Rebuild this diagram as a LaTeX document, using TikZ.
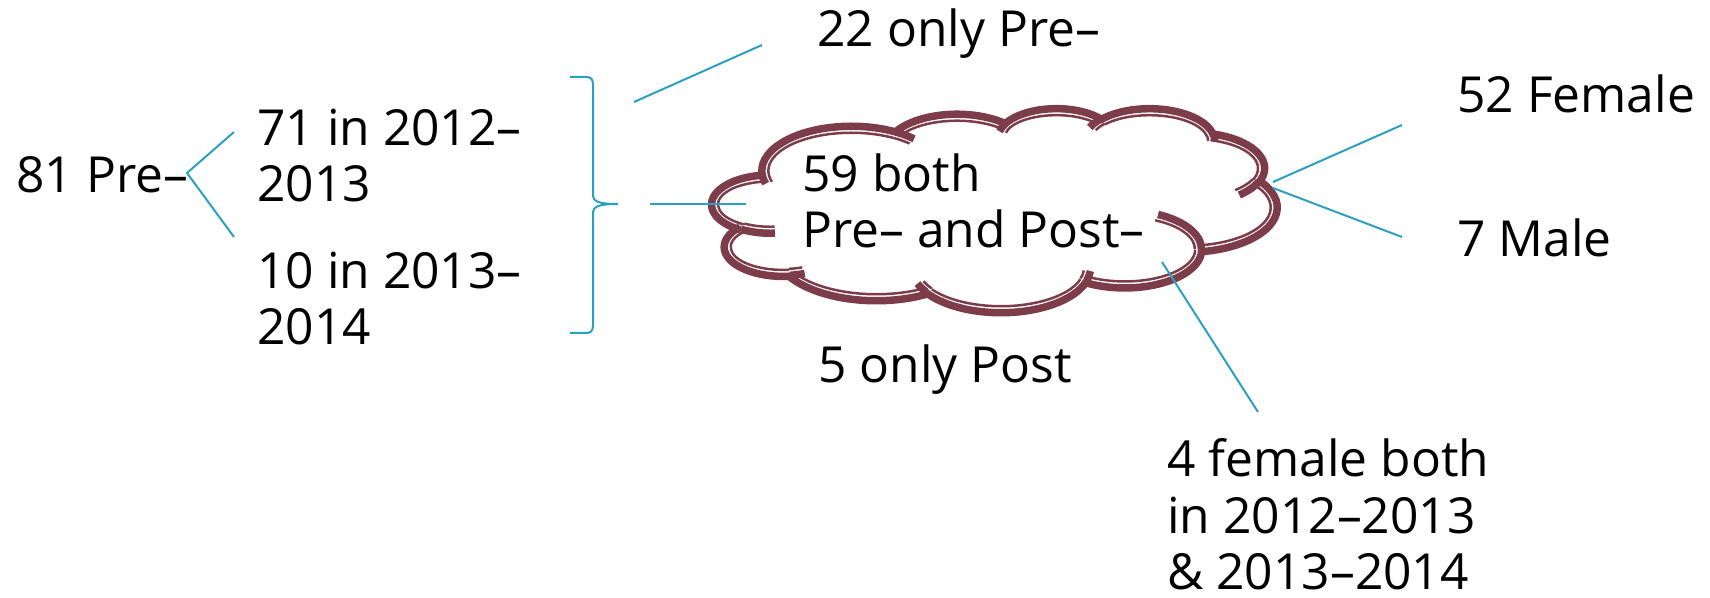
\documentclass[tikz,border=0pt]{standalone}
\usepackage{fontspec}
\setmainfont{Open Sans}
\definecolor{linkblue}{RGB}{44,160,192}
\definecolor{cloudred}{RGB}{124,60,74}

% cloud outline helpers: shape units (0..43200) mapped onto a 561 x 200 box at (714,110)
\newcommand\cldmove[2]{%
  \edef\cpx{\fpeval{714+(#1)*561/43200}}%
  \edef\cpy{\fpeval{110+(#2)*200/43200}}}
\newcommand\cldband[2]{%
  \draw[cloudline, line width=#2*0.5pt]
    ({\cldcx+(\cldrx+(#1))*cos(\cldta)},{\cldcy+(\cldry+(#1))*sin(\cldta)})
    arc[start angle=\cldta, end angle=\cldtb, x radius={\cldrx+(#1)}, y radius={\cldry+(#1)}];}
% elliptic arc from the current point: radii wR,hR, start angle, sweep (degrees)
\newcommand\cldarc[4]{%
  \edef\cldrx{\fpeval{round((#1)*561/43200,4)}}%
  \edef\cldry{\fpeval{round((#2)*200/43200,4)}}%
  \edef\cldta{\fpeval{round(atand((#1)*sind(#3),(#2)*cosd(#3)),4)}}%
  \edef\cldtb{\fpeval{round(atand((#1)*sind((#3)+(#4)),(#2)*cosd((#3)+(#4))),4)}}%
  \edef\cldd{\fpeval{\cldtb-(\cldta)}}%
  \edef\cldtb{\fpeval{round(\cldta+(((#4)>0) ? ((\cldd<0) ? \cldd+360 : \cldd) : ((\cldd>0) ? \cldd-360 : \cldd)),4)}}%
  \edef\cldcx{\fpeval{round(\cpx-\cldrx*cosd(\cldta),4)}}%
  \edef\cldcy{\fpeval{round(\cpy-\cldry*sind(\cldta),4)}}%
  \cldband{2}{7.5}%
  \cldband{-4.5}{2.5}%
  \edef\cpx{\fpeval{round(\cldcx+\cldrx*cosd(\cldtb),4)}}%
  \edef\cpy{\fpeval{round(\cldcy+\cldry*sind(\cldtb),4)}}}

\tikzset{
  lbl/.style={anchor=base west, inner sep=0pt, align=left,
    font=\fontsize{24.85pt}{28.25pt}\selectfont},
  link/.style={draw=linkblue, line width=1pt},
  cloudline/.style={draw=cloudred, line cap=butt},
}

\begin{document}
\begin{tikzpicture}[x=0.5pt, y=-0.5pt]
\useasboundingbox (0,0) rectangle (1710,598);

% ---- cloud: outer outline ----
\cldmove{3900}{14370}
\cldarc{6753}{9190}{-11429249/60000}{7426832/60000}
\cldarc{5333}{7267}{-8646143/60000}{5396714/60000}
\cldarc{4365}{5945}{-8748475/60000}{5983381/60000}
\cldarc{4857}{6595}{-7859164/60000}{7034504/60000}
\cldarc{5333}{7273}{-4722533/60000}{6541615/60000}
\cldarc{6775}{9220}{-2776035/60000}{7816140/60000}
\cldarc{5785}{7867}{37501/60000}{6842000/60000}
\cldarc{6752}{9215}{1347096/60000}{6910353/60000}
\cldarc{7720}{10543}{3974558/60000}{4542661/60000}
\cldarc{4360}{5918}{-16496525/60000}{8804134/60000}
\cldarc{4345}{5945}{-14809710/60000}{9151131/60000}
% ---- cloud: inner curls ----
\cldmove{4693}{26177}  \cldarc{4345}{5945}{5204520/60000}{1585770/60000}
\cldmove{6928}{34899}  \cldarc{4360}{5918}{4416628/60000}{686848/60000}
\cldmove{16478}{39090} \cldarc{6752}{9215}{8257449/60000}{844866/60000}
\cldmove{28827}{34751} \cldarc{6752}{9215}{387196/60000}{959901/60000}
\cldmove{34129}{22954} \cldarc{5785}{7867}{-4217541/60000}{4255042/60000}
\cldmove{41798}{15354} \cldarc{5333}{7273}{1819082/60000}{1665090/60000}
\cldmove{38324}{5426}  \cldarc{4857}{6595}{-824660/60000}{891534/60000}
\cldmove{29078}{3952}  \cldarc{4857}{6595}{-8950887/60000}{1091722/60000}
\cldmove{22141}{4720}  \cldarc{4365}{5945}{-9809656/60000}{1061181/60000}
\cldmove{14000}{5192}  \cldarc{6753}{9190}{-4002417/60000}{739161/60000}
\cldmove{4127}{15789}  \cldarc{6753}{9190}{9459261/60000}{711490/60000}

% ---- labels (multi-line labels are placed by their last baseline) ----
\node[lbl] (pre81)    at (16,193)   {81 Pre–};
\node[lbl] (y1213)    at (257,202)  {71 in 2012–\\2013};
\node[lbl] (y1314)    at (257,345)  {10 in 2013–\\2014};
\node[lbl] (onlypre)  at (817,47)   {22 only Pre–};
\node[lbl] (both)     at (802,248)  {59 both\\Pre– and Post–};
\node[lbl] (onlypost) at (818,383)  {5 only Post};
\node[lbl] (female)   at (1457,113) {52 Female};
\node[lbl] (male)     at (1457,257) {7 Male};
\node[lbl] (fem4)     at (1167,590) {4 female both\\in 2012–2013\\\& 2013–2014};

% ---- connector end points ----
\coordinate (fork)     at (187,173);
\coordinate (to71)     at (234,132);
\coordinate (to10)     at (234,237);
\coordinate (bracetip) at (618,204);
\coordinate (preA)     at (634,102);
\coordinate (preB)     at (762,45);
\coordinate (midA)     at (650,204.5);
\coordinate (midB)     at (746,204.5);
\coordinate (cldR1)    at (1273,182);
\coordinate (cldR2)    at (1273,188);
\coordinate (femEnd)   at (1402,125);
\coordinate (maleEnd)  at (1402,237);
\coordinate (cldB)     at (1162,262);
\coordinate (f4End)    at (1258,412);

% ---- connectors ----
\draw[link] (to71) -- (fork) -- (to10);
\draw[link] (570,77) -- (586,77) .. controls (591,77) and (593,79) .. (593,85)
  -- (593,195) .. controls (593,202) and (600,204) .. (bracetip)
  .. controls (600,204) and (593,206) .. (593,213)
  -- (593,325) .. controls (593,331) and (591,333) .. (586,333) -- (570,333);
\draw[link] (preA) -- (preB);
\draw[link] (midA) -- (midB);
\draw[link] (cldR1) -- (femEnd);
\draw[link] (cldR2) -- (maleEnd);
\draw[link] (cldB) -- (f4End);
\end{tikzpicture}
\end{document}
